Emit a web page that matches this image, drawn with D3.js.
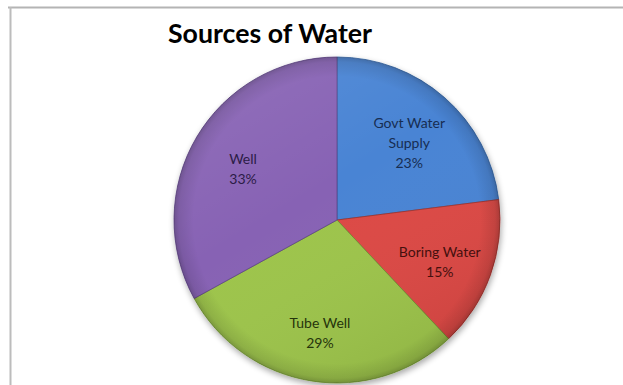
<!DOCTYPE html>
<html>
<head>
<meta charset="utf-8">
<script src="https://cdn.jsdelivr.net/npm/d3@7"></script>
<style>
  html, body { margin: 0; padding: 0; background: #fff; }
  svg { display: block; }
</style>
</head>
<body>
<svg id="chart" width="623" height="385"></svg>
<script>
// Water source shares (percent), clockwise from 12 o'clock
const categories = ["Govt Water Supply", "Boring Water", "Tube Well", "Well"];
const labelLines = [["Govt Water", "Supply"], ["Boring Water"], ["Tube Well"], ["Well"]];
const values = [23, 15, 29, 33];
const fills = ["#4a84d4", "#dc4a44", "#9dc44c", "#8762b4"];
const edges = ["#2f5f9e", "#9e2e2a", "#6f9230", "#5d4285"];
const textColors = ["#172d52", "#45100e", "#25340b", "#2c1c46"];

const W = 623, H = 385;
const cx = 337, cy = 220, r = 163;

const svg = d3.select("#chart");
const defs = svg.append("defs");

// outer frame (top and left edges visible)
svg.append("line").attr("x1", 8).attr("y1", 7.5).attr("x2", W).attr("y2", 7.5)
  .attr("stroke", "#b4b4b4").attr("stroke-width", 2);
svg.append("line").attr("x1", 10.5).attr("y1", 7).attr("x2", 10.5).attr("y2", H)
  .attr("stroke", "#bcbcbc").attr("stroke-width", 2);

// title
svg.append("text")
  .attr("x", 270).attr("y", 43)
  .attr("text-anchor", "middle")
  .attr("font-family", "Lato, 'Open Sans', sans-serif")
  .attr("font-weight", "bold")
  .attr("font-size", 26)
  .attr("textLength", 204)
  .attr("lengthAdjust", "spacingAndGlyphs")
  .attr("fill", "#000")
  .text("Sources of Water");

// soft drop shadow
const shadow = defs.append("filter").attr("id", "shadow")
  .attr("x", "-20%").attr("y", "-20%").attr("width", "140%").attr("height", "140%");
shadow.append("feGaussianBlur").attr("in", "SourceAlpha").attr("stdDeviation", 3).attr("result", "b");
shadow.append("feOffset").attr("in", "b").attr("dx", 1).attr("dy", 3).attr("result", "o");
shadow.append("feComponentTransfer").attr("in", "o").attr("result", "s")
  .append("feFuncA").attr("type", "linear").attr("slope", 0.35);
const merge = shadow.append("feMerge");
merge.append("feMergeNode").attr("in", "s");
merge.append("feMergeNode").attr("in", "SourceGraphic");

// rim shading to give the bevelled look
const rim = defs.append("radialGradient").attr("id", "rim")
  .attr("gradientUnits", "userSpaceOnUse")
  .attr("cx", 0).attr("cy", 0).attr("r", r);
rim.append("stop").attr("offset", "0.88").attr("stop-color", "#000").attr("stop-opacity", 0);
rim.append("stop").attr("offset", "0.97").attr("stop-color", "#000").attr("stop-opacity", 0.10);
rim.append("stop").attr("offset", "1").attr("stop-color", "#000").attr("stop-opacity", 0.22);

const light = defs.append("linearGradient").attr("id", "light")
  .attr("x1", 0).attr("y1", 0).attr("x2", 0.6).attr("y2", 1);
light.append("stop").attr("offset", "0").attr("stop-color", "#fff").attr("stop-opacity", 0.10);
light.append("stop").attr("offset", "0.5").attr("stop-color", "#fff").attr("stop-opacity", 0);
light.append("stop").attr("offset", "1").attr("stop-color", "#000").attr("stop-opacity", 0.06);

const pie = d3.pie().sort(null).value(d => d);
const arcs = pie(values);
const arc = d3.arc().innerRadius(0).outerRadius(r);
const labelArc = d3.arc().innerRadius(r * 0.67).outerRadius(r * 0.67);

const g = svg.append("g").attr("transform", `translate(${cx},${cy})`);
const pg = g.append("g").attr("filter", "url(#shadow)");

pg.selectAll("path.slice").data(arcs).join("path")
  .attr("class", "slice")
  .attr("d", arc)
  .attr("fill", (d, i) => fills[i])
  .attr("stroke", (d, i) => edges[i])
  .attr("stroke-width", 0.8)
  .attr("stroke-linejoin", "round");

g.selectAll("path.rim").data(arcs).join("path")
  .attr("class", "rim")
  .attr("d", arc)
  .attr("fill", "url(#rim)");

g.append("circle").attr("r", r).attr("fill", "url(#light)");

// data labels
const lg = g.append("g")
  .attr("font-family", "Lato, 'Open Sans', sans-serif")
  .attr("font-size", 14)
  .attr("text-anchor", "middle");

arcs.forEach((d, i) => {
  const [x, y] = labelArc.centroid(d);
  const lines = labelLines[i].concat([d3.format(".0%")(values[i] / d3.sum(values))]);
  const lh = 20;
  const y0 = y - (lines.length - 1) * lh / 2 + 10;
  const t = lg.append("text").attr("fill", textColors[i]);
  lines.forEach((ln, k) => {
    t.append("tspan").attr("x", x).attr("y", y0 + k * lh).text(ln);
  });
});
</script>
</body>
</html>
